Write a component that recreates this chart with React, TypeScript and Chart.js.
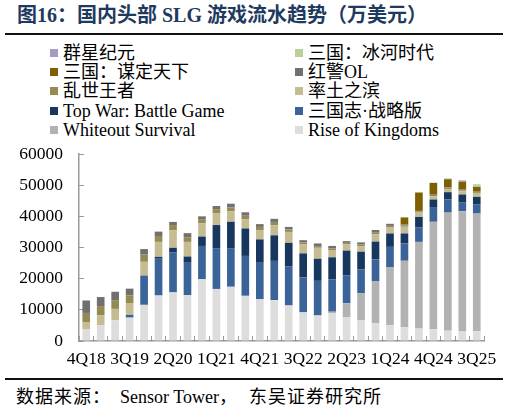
import React, { useEffect, useRef } from "react";
import { Chart, registerables } from "chart.js";

Chart.register(...registerables);

const categories = ["4Q18","1Q19","2Q19","3Q19","4Q19","1Q20","2Q20","3Q20","4Q20","1Q21","2Q21","3Q21","4Q21","1Q22","2Q22","3Q22","4Q22","1Q23","2Q23","3Q23","4Q23","1Q24","2Q24","3Q24","4Q24","1Q25","2Q25","3Q25"];

const riseOfKingdoms = [3700,5100,6700,7500,11600,14600,15600,14700,19800,16700,17400,14500,13400,13100,11400,9200,8200,8900,7700,6600,5700,5100,4400,4000,3750,3300,3200,3100];
const whiteoutSurvival = [0,0,0,0,0,0,0,0,0,0,0,0,0,0,0,0,0,500,4400,8700,13400,18500,21350,27800,34500,37900,38450,37800];
const sanguozhi = [0,0,0,900,9400,11800,12900,10400,10700,13100,12400,12800,11700,12600,12600,11200,11100,10400,8900,7700,7100,6600,5550,4600,4500,4200,2900,3000];
const topWar = [0,0,0,0,0,600,1400,2000,3000,7400,8450,8800,7500,8200,7500,7700,7100,7050,8000,5650,5700,4300,3200,3400,2650,2350,2450,2350];
const shuaitu = [2400,3200,3600,3800,4400,4800,5600,4700,4300,3700,3400,3000,3000,3200,3500,3000,3500,2350,2000,1800,2300,1900,2150,1400,1050,1050,1050,1050];
const luanshi = [2900,2900,2800,2400,2300,1900,1700,1500,1300,1400,1200,1100,1000,1100,800,500,550,550,500,550,550,550,400,300,400,400,300,450];
const hongjing = [4000,2900,2700,2200,1800,1400,1000,1300,900,1000,1200,1100,900,1000,800,750,850,750,550,650,850,650,300,250,250,200,250,200];
const moudingtianxia = [0,0,0,0,0,0,0,0,0,0,0,0,0,0,0,0,0,0,0,0,0,0,2300,5900,3650,2500,2450,1500];
const binghe = [0,0,0,0,0,0,0,0,0,0,0,0,0,0,0,0,0,0,0,0,0,0,0,0,0,300,0,850];
const qunxing = [0,0,0,0,0,0,0,0,0,0,0,0,0,0,0,0,0,0,0,0,0,0,0,0,0,0,500,0];

const yTicks = [0, 10000, 20000, 30000, 40000, 50000, 60000];

// bottom → top stacking order
const seriesNames = ["Rise of Kingdoms","Whiteout Survival","三国志·战略版","Top War: Battle Game","率土之滨","乱世王者","红警OL","三国：谋定天下","三国：冰河时代","群星纪元"];
const seriesData = [riseOfKingdoms, whiteoutSurvival, sanguozhi, topWar, shuaitu, luanshi, hongjing, moudingtianxia, binghe, qunxing];
const seriesColors = ["#DDDDDD","#B2B2B2","#3A6398","#17375E","#C6BC94","#948A54","#707070","#7F6000","#B7D09C","#A89BC2"];

const FONT = "'Liberation Serif', 'Noto Sans CJK SC', serif";

export default function App() {
  const canvasRef = useRef<HTMLCanvasElement | null>(null);

  useEffect(() => {
    const canvas = canvasRef.current;
    if (!canvas) return;
    const chart = new Chart(canvas, {
      type: "bar",
      data: {
        labels: categories,
        datasets: seriesNames.map((name, i) => ({
          label: name,
          data: seriesData[i],
          backgroundColor: seriesColors[i],
          borderWidth: 0,
          barPercentage: 0.53,
          categoryPercentage: 1,
        })),
      },
      options: {
        responsive: false,
        animation: false,
        layout: { padding: { left: 0, right: 25, top: 14, bottom: 0 } },
        plugins: { legend: { display: false }, tooltip: { enabled: false } },
        scales: {
          x: {
            stacked: true,
            grid: { display: true, drawOnChartArea: false, drawTicks: true, tickLength: -5, color: "#9A9A9A", offset: true },
            border: { display: true, color: "#9A9A9A", width: 1.5 },
            ticks: {
              autoSkip: false,
              maxRotation: 0,
              minRotation: 0,
              padding: 13,
              color: "#000",
              font: { family: FONT, size: 17.5 },
              callback: (_v: any, i: number) => (i % 3 === 0 ? categories[i] : ""),
            },
            afterFit: (scale: any) => {
              scale.height = 37;
              scale.paddingLeft = 0;
              scale.paddingRight = 0;
            },
          },
          y: {
            stacked: true,
            min: 0,
            max: 60000,
            afterBuildTicks: (scale: any) => {
              scale.ticks = yTicks.map((v) => ({ value: v }));
            },
            grid: { display: true, drawOnChartArea: false, drawTicks: true, tickLength: -5, color: "#9A9A9A" },
            border: { display: true, color: "#9A9A9A", width: 1.5 },
            ticks: {
              padding: 21,
              color: "#000",
              font: { family: FONT, size: 17.5 },
              callback: (v: any) => String(v),
            },
            afterFit: (scale: any) => {
              scale.width = 79;
              scale.paddingTop = 0;
              scale.paddingBottom = 0;
            },
          },
        },
      },
    });
    return () => chart.destroy();
  }, []);

  // legend: reversed stacking order, two columns row-major
  const legendOrder = seriesNames.map((_, i) => seriesNames.length - 1 - i);
  const rowY = [53, 72, 91, 111, 130];

  return (
    <div style={{ position: "absolute", left: 0, top: 0, width: 509, height: 413, background: "#fff", fontFamily: FONT, overflow: "hidden" }}>
      <div style={{ position: "absolute", left: 17, top: 3, fontSize: 20, fontWeight: "bold", color: "#1F3A5F", whiteSpace: "nowrap", lineHeight: "24px" }}>
        图16：国内头部 SLG 游戏流水趋势（万美元）
      </div>
      <div style={{ position: "absolute", left: 5, top: 33, width: 498, height: 2, background: "#111" }} />
      {legendOrder.map((idx, k) => {
        const col = k % 2;
        const row = Math.floor(k / 2);
        const left = col === 0 ? 50 : 295;
        const cy = rowY[row];
        return (
          <div key={idx} style={{ position: "absolute", left, top: cy - 11, height: 22, display: "flex", alignItems: "center", whiteSpace: "nowrap" }}>
            <span style={{ display: "inline-block", width: 8, height: 8, background: seriesColors[idx], marginRight: 5 }} />
            <span style={{ fontSize: 18, color: "#000", lineHeight: "22px" }}>{seriesNames[idx]}</span>
          </div>
        );
      })}
      <canvas ref={canvasRef} width={509} height={238} style={{ position: "absolute", left: 0, top: 140, width: 509, height: 238 }} />
      <div style={{ position: "absolute", left: 5, top: 378, width: 498, height: 2, background: "#111" }} />
      <div style={{ position: "absolute", left: 16, top: 386, fontSize: 18, color: "#000", whiteSpace: "pre", lineHeight: "22px" }}>
        <span style={{ letterSpacing: 1 }}>数据来源：</span>
        {"  Sensor Tower"}
        <span style={{ letterSpacing: 1 }}>，  东吴证券研究所</span>
      </div>
    </div>
  );
}
